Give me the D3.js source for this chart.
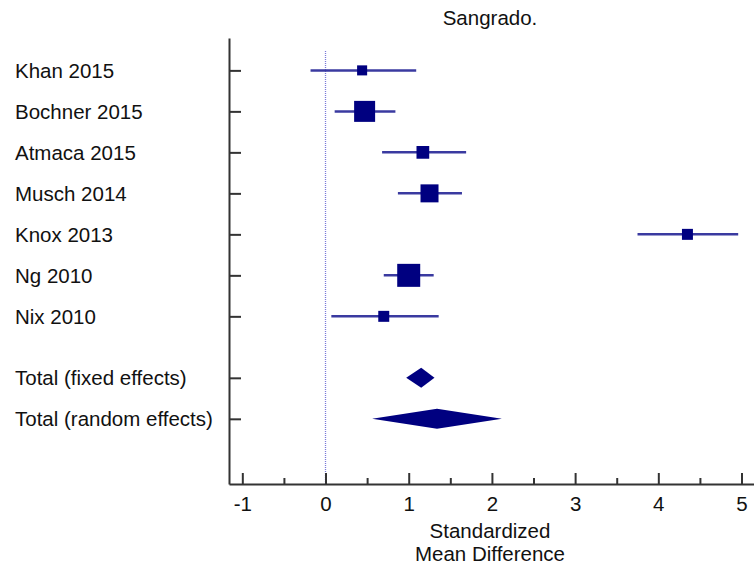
<!DOCTYPE html>
<html>
<head>
<meta charset="utf-8">
<script src="https://cdn.jsdelivr.net/npm/d3@7"></script>
<style>
  body { margin: 0; background: #fff; }
  svg { display: block; font-family: "Liberation Sans", Arial, sans-serif; }
</style>
</head>
<body>
<svg width="754" height="569"></svg>
<script>
// studies (top to bottom)
var studies = ["Khan 2015", "Bochner 2015", "Atmaca 2015", "Musch 2014", "Knox 2013", "Ng 2010", "Nix 2010"];
var smd     = [0.44, 0.47, 1.17, 1.25, 4.35, 1.00, 0.70];
var lower   = [-0.18, 0.11, 0.68, 0.87, 3.75, 0.70, 0.07];
var upper   = [1.09, 0.84, 1.69, 1.64, 4.96, 1.30, 1.36];
var weights = [5.6, 24.5, 9.0, 18.0, 6.7, 29.4, 6.7];   // % weight -> square area

// pooled estimates
var totals      = ["Total (fixed effects)", "Total (random effects)"];
var totalSmd    = [1.15, 1.34];
var totalLower  = [0.97, 0.56];
var totalUpper  = [1.31, 2.12];

var xTicks = [-1, 0, 1, 2, 3, 4, 5];
var xMinor = [-0.5, 0.5, 1.5, 2.5, 3.5, 4.5];

var navy = "#000080";
var fontSize = "20.5px";

var svg = d3.select("svg");

// scales
var x = d3.scaleLinear().domain([-1.16, 5.15]).range([229, 754]);
var y = d3.scaleLinear().domain([-0.79, 10.09]).range([38, 484]);
var side = d3.scaleSqrt().domain([0, d3.max(weights)]).range([0, 23]);

var studyRows = studies.map(function(d, i) { return i; });
var totalRows = [7.5, 8.5];

// title
svg.append("text")
  .attr("x", 490).attr("y", 25)
  .attr("text-anchor", "middle")
  .attr("fill", "#111")
  .style("font-size", fontSize)
  .text("Sangrado.");

// zero line
svg.append("line")
  .attr("x1", x(0)).attr("x2", x(0))
  .attr("y1", 51).attr("y2", y.range()[1])
  .attr("stroke", "#7a7ad8")
  .attr("stroke-width", 1.3)
  .attr("stroke-dasharray", "1,1");

// x axis (ticks inside)
var xAxis = svg.append("g")
  .attr("transform", "translate(0," + y.range()[1] + ")")
  .call(d3.axisBottom(x).tickValues(xTicks).tickFormat(function(d) { return String(d); })
    .tickSizeInner(-11).tickSizeOuter(0).tickPadding(12));
xAxis.selectAll("text")
  .attr("fill", "#111")
  .style("font-size", fontSize)
  .style("font-family", "Liberation Sans, Arial, sans-serif");
xAxis.append("g")
  .call(d3.axisBottom(x).tickValues(xMinor).tickSizeInner(-6).tickSizeOuter(0).tickFormat(""))
  .select(".domain").remove();
xAxis.selectAll("path, line").attr("stroke", "#333").attr("stroke-width", 2);

// y axis (ticks only, labels on the left)
var yAxis = svg.append("g")
  .attr("transform", "translate(" + x.range()[0] + ",0)")
  .call(d3.axisRight(y).tickValues(studyRows.concat(totalRows)).tickSizeInner(12).tickSizeOuter(0).tickFormat(""));
yAxis.selectAll("path, line").attr("stroke", "#333").attr("stroke-width", 2);

svg.append("g").selectAll("text")
  .data(studies.concat(totals))
  .join("text")
  .attr("x", 15)
  .attr("y", function(d, i) { return y(i < studies.length ? studyRows[i] : totalRows[i - studies.length]); })
  .attr("dy", "0.36em")
  .attr("fill", "#111")
  .style("font-size", fontSize)
  .text(function(d) { return d; });

// axis title
var xt = svg.append("text")
  .attr("x", 490).attr("y", 538)
  .attr("text-anchor", "middle")
  .attr("fill", "#111")
  .style("font-size", fontSize);
xt.append("tspan").attr("x", 490).text("Standardized");
xt.append("tspan").attr("x", 490).attr("dy", 23).text("Mean Difference");

// confidence intervals
svg.append("g").selectAll("line")
  .data(studyRows)
  .join("line")
  .attr("x1", function(i) { return x(lower[i]); })
  .attr("x2", function(i) { return x(upper[i]); })
  .attr("y1", function(i) { return y(i); })
  .attr("y2", function(i) { return y(i); })
  .attr("stroke", "#3a3aa0")
  .attr("stroke-width", 2.5);

// squares
svg.append("g").selectAll("rect")
  .data(studyRows)
  .join("rect")
  .attr("x", function(i) { return x(smd[i]) - side(weights[i]) / 2; })
  .attr("y", function(i) { return y(i) - side(weights[i]) / 2; })
  .attr("width", function(i) { return side(weights[i]); })
  .attr("height", function(i) { return side(weights[i]); })
  .attr("fill", navy);

// diamonds
svg.append("g").selectAll("path")
  .data(totalRows)
  .join("path")
  .attr("d", function(r, i) {
    var cy = y(r), h = 10;
    return "M" + x(totalLower[i]) + "," + cy +
      "L" + x(totalSmd[i]) + "," + (cy - h) +
      "L" + x(totalUpper[i]) + "," + cy +
      "L" + x(totalSmd[i]) + "," + (cy + h) + "Z";
  })
  .attr("fill", navy);
</script>
</body>
</html>
